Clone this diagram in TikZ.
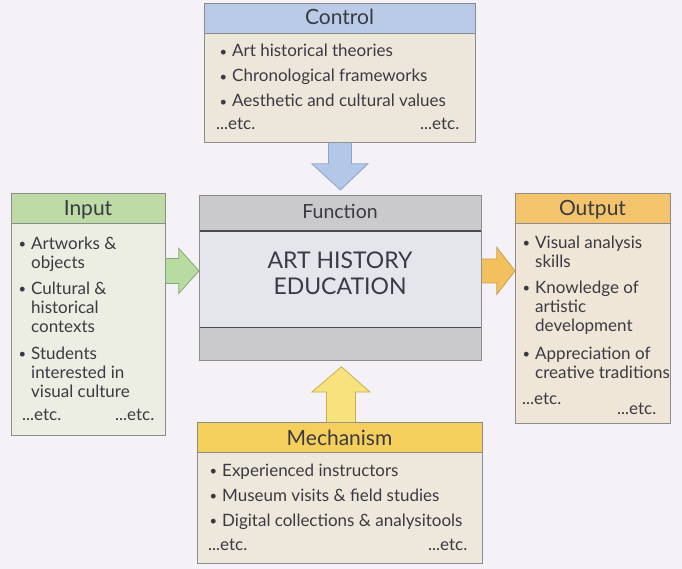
\documentclass[tikz,border=0pt]{standalone}
\usepackage{fontspec}
\setmainfont{Lato}
\usetikzlibrary{calc}
\definecolor{bg}{HTML}{F4F1F7}
\definecolor{textc}{HTML}{3A3A42}
\definecolor{boxline}{HTML}{8C8C8C}
\definecolor{ctrlhead}{HTML}{BACBE8}
\definecolor{ctrlbody}{HTML}{EDE6DB}
\definecolor{inhead}{HTML}{BEDBA6}
\definecolor{inbody}{HTML}{EDEEE3}
\definecolor{outhead}{HTML}{F3C46B}
\definecolor{outbody}{HTML}{F0E6D7}
\definecolor{mechhead}{HTML}{F5CF5C}
\definecolor{mechbody}{HTML}{EEE7DB}
\definecolor{funchead}{HTML}{CACACD}
\definecolor{funcbody}{HTML}{E4E6EB}
\definecolor{funcline}{HTML}{4A4A50}
\definecolor{blarrow}{HTML}{B3C7E8}
\definecolor{blarrowline}{HTML}{8FA3C4}
\definecolor{grarrow}{HTML}{B8DBA2}
\definecolor{grarrowline}{HTML}{86A872}
\definecolor{orarrow}{HTML}{F3C05E}
\definecolor{orarrowline}{HTML}{C9A050}
\definecolor{yearrow}{HTML}{F8E27E}
\definecolor{yearrowline}{HTML}{C8B050}
\newcommand\bul{\makebox[11pt][l]{\hspace{-1.5pt}\raisebox{0.8pt}{\fontsize{13}{13}\selectfont•}}}
\tikzset{
  boxshape/.style={draw=boxline, line width=0.8pt, anchor=north west, inner sep=0pt},
  titletxt/.style={anchor=base, inner sep=0pt, text=textc, font=\fontsize{21}{23}\selectfont},
  txt/.style={anchor=base west, inner sep=0pt, text=textc, font=\fontsize{17}{19}\selectfont},
  bigtxt/.style={anchor=base, inner sep=0pt, text=textc, font=\fontsize{23}{25}\selectfont},
  blockarrow/.style={line width=0.8pt, line join=miter}
}
\begin{document}
\begin{tikzpicture}[x=1pt,y=-1pt]
\fill[bg] (0,0) rectangle (682,569);
\useasboundingbox (0,0) rectangle (682,569);

% ---------- Control ----------
\node[boxshape, fill=ctrlhead, minimum width=271pt, minimum height=30pt] (ctrlH) at (204,3) {};
\node[boxshape, fill=ctrlbody, minimum width=271pt, minimum height=109pt] (ctrlB) at (204,33) {};
\node[titletxt] (ctrlT) at (339.5,25) {Control};
\node[txt] (c1) at (221,57) {\bul Art historical theories};
\node[txt] (c2) at (221,82) {\bul Chronological frameworks};
\node[txt] (c3) at (221,107) {\bul Aesthetic and cultural values};
\node[txt] (c4) at (216,130) {...etc.};
\node[txt] (c5) at (420,130) {...etc.};

% ---------- Function ----------
\node[boxshape, fill=funcbody, minimum width=282pt, minimum height=165pt] (func) at (199,195) {};
\fill[funchead] (func.north west) rectangle ($(func.north east)+(0,36)$);
\fill[funchead] ($(func.south west)+(0,-33)$) rectangle (func.south east);
\draw[funcline, line width=2pt] ($(func.north west)+(0,36)$) -- ($(func.north east)+(0,36)$);
\draw[funcline, line width=0.8pt] ($(func.south west)+(0,-33)$) -- ($(func.south east)+(0,-33)$);
\draw[boxline, line width=0.8pt] (func.north west) rectangle (func.south east);
\node[anchor=base, inner sep=0pt, text=textc, font=\fontsize{19.5}{21}\selectfont] (funcT) at (340,219) {Function};
\node[bigtxt] (f1) at (340,269) {ART HISTORY};
\node[bigtxt] (f2) at (340,294) {EDUCATION};

% ---------- Input ----------
\node[boxshape, fill=inhead, minimum width=154pt, minimum height=30pt] (inH) at (11,193) {};
\node[boxshape, fill=inbody, minimum width=154pt, minimum height=212pt] (inB) at (11,223) {};
\node[titletxt] (inT) at (88,216) {Input};
\node[txt] (i1) at (20,249) {\bul Artworks \&};
\node[txt] (i2) at (31,268) {objects};
\node[txt] (i3) at (20,294) {\bul Cultural \&};
\node[txt] (i4) at (31,313) {historical};
\node[txt] (i5) at (31,332) {contexts};
\node[txt] (i6) at (20,359) {\bul Students};
\node[txt] (i7) at (31,378) {interested in};
\node[txt] (i8) at (31,397) {visual culture};
\node[txt] (i9) at (22,420) {...etc.};
\node[txt] (i10) at (115,420) {...etc.};

% ---------- Output ----------
\node[boxshape, fill=outhead, minimum width=155pt, minimum height=30pt] (outH) at (515,193) {};
\node[boxshape, fill=outbody, minimum width=155pt, minimum height=200pt] (outB) at (515,223) {};
\node[titletxt] (outT) at (592.5,216) {Output};
\node[txt] (o1) at (524,248) {\bul Visual analysis};
\node[txt] (o2) at (535,267) {skills};
\node[txt] (o3) at (524,293) {\bul Knowledge of};
\node[txt] (o4) at (535,312) {artistic};
\node[txt] (o5) at (535,331) {development};
\node[txt] (o6) at (524,359) {\bul Appreciation of};
\node[txt] (o7) at (535,378) {creative traditions};
\node[txt] (o8) at (522,404) {...etc.};
\node[txt] (o9) at (617,414) {...etc.};

% ---------- Mechanism ----------
\node[boxshape, fill=mechhead, minimum width=285pt, minimum height=30pt] (mechH) at (197,422) {};
\node[boxshape, fill=mechbody, minimum width=285pt, minimum height=111pt] (mechB) at (197,452) {};
\node[titletxt] (mechT) at (339.5,445) {Mechanism};
\node[txt] (m1) at (211,476) {\bul Experienced instructors};
\node[txt] (m2) at (211,501) {\bul Museum visits \& field studies};
\node[txt] (m3) at (211,526) {\bul Digital collections \& analysitools};
\node[txt] (m4) at (208,550) {...etc.};
\node[txt] (m5) at (428,550) {...etc.};

% ---------- Arrows ----------
% Control -> Function
\coordinate (ctrlTip) at ($(func.north)+(0,-5)$);
\filldraw[blockarrow, fill=blarrow, draw=blarrowline]
  ($(ctrlB.south)+(-11.5,0)$) -- ($(ctrlB.south)+(-11.5,21)$) -- ($(ctrlB.south)+(-28,21)$)
  -- (ctrlTip) -- ($(ctrlB.south)+(28,21)$) -- ($(ctrlB.south)+(11.5,21)$)
  -- ($(ctrlB.south)+(11.5,0)$);
% Input -> Function
\coordinate (inTip) at ($(func.west)+(0,-7)$);
\coordinate (inBase) at (inTip -| inB.east);
\filldraw[blockarrow, fill=grarrow, draw=grarrowline]
  ($(inBase)+(0,-12.5)$) -- ($(inBase)+(13,-12.5)$) -- ($(inBase)+(13,-22.5)$)
  -- (inTip) -- ($(inBase)+(13,22.5)$) -- ($(inBase)+(13,12.5)$) -- ($(inBase)+(0,12.5)$);
% Function -> Output
\coordinate (outBase) at ($(func.east)+(0,-7)$);
\coordinate (outTip) at (outBase -| outB.west);
\filldraw[blockarrow, fill=orarrow, draw=orarrowline]
  ($(outBase)+(0,-12)$) -- ($(outBase)+(15,-12)$) -- ($(outBase)+(15,-23.5)$)
  -- (outTip) -- ($(outBase)+(15,23.5)$) -- ($(outBase)+(15,12)$) -- ($(outBase)+(0,12)$);
% Mechanism -> Function
\coordinate (mechTip) at ($(func.south)+(1,6)$);
\coordinate (mechBase) at ($(mechH.north)+(1,0)$);
\filldraw[blockarrow, fill=yearrow, draw=yearrowline]
  ($(mechBase)+(-14.5,0)$) -- ($(mechBase)+(-14.5,-30)$) -- ($(mechBase)+(-29,-30)$)
  -- (mechTip) -- ($(mechBase)+(29,-30)$) -- ($(mechBase)+(14.5,-30)$) -- ($(mechBase)+(14.5,0)$);
\end{tikzpicture}
\end{document}
